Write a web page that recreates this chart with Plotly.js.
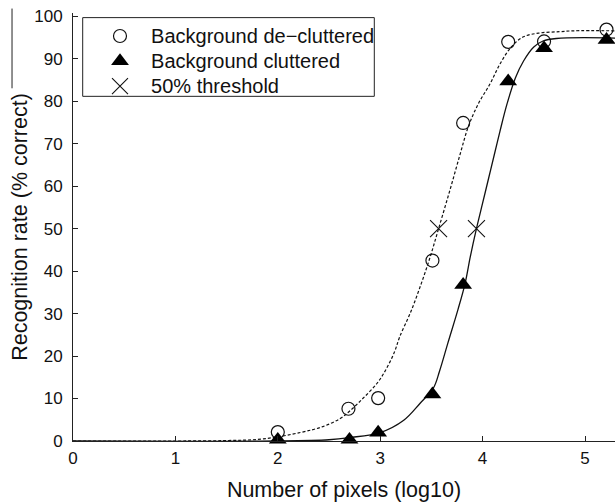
<!DOCTYPE html>
<html>
<head>
<meta charset="utf-8">
<script src="https://cdn.plot.ly/plotly-3.0.1.min.js"></script>
<style>html,body{margin:0;padding:0;background:#fff;}#chart{width:615px;height:504px;}</style>
</head>
<body>
<div id="chart"></div>
<script>
// Measured data points
var declutteredX = [2.0, 2.69, 2.98, 3.51, 3.81, 4.25, 4.60, 5.21];
var declutteredY = [2.1, 7.6, 10.1, 42.5, 74.9, 94.0, 94.1, 96.9];
var clutteredX = [2.0, 2.70, 2.98, 3.51, 3.81, 4.25, 4.60, 5.21];
var clutteredY = [0.3, 0.3, 2.0, 11.0, 36.8, 84.7, 92.5, 94.5];
var thresholdX = [3.57, 3.94];
var thresholdY = [50, 50];

// Fitted curves
var fitDeclutteredX = [0, 1.0, 1.5, 1.86, 2.22, 2.44, 2.61, 2.70, 2.83, 2.97, 3.06, 3.14, 3.19, 3.30, 3.40, 3.49, 3.57, 3.68, 3.78, 3.86, 3.96, 4.07, 4.17, 4.28, 4.40, 4.56, 4.75, 4.89, 5.3];
var fitDeclutteredY = [0, 0, 0.1, 0.5, 2.0, 3.4, 5.3, 7.0, 10.0, 13.6, 17.0, 21.0, 24.5, 30.5, 37, 43.5, 50, 59, 67.5, 74, 79.5, 84, 88.8, 92.8, 95.2, 96.1, 96.4, 96.6, 96.6];
var fitClutteredX = [0, 2.0, 2.5, 2.70, 3.00, 3.23, 3.39, 3.52, 3.58, 3.66, 3.76, 3.83, 3.88, 3.94, 4.00, 4.06, 4.12, 4.17, 4.24, 4.32, 4.40, 4.50, 4.59, 4.72, 5.3];
var fitClutteredY = [0, 0, 0.3, 0.8, 2.0, 4.9, 8.9, 12.5, 16.5, 23, 31, 37.2, 43.4, 50, 56, 62, 68, 73, 79.5, 85.5, 89.5, 92.8, 94.2, 94.8, 94.9];

var xTicks = [0, 1, 2, 3, 4, 5];
var yTicks = [0, 10, 20, 30, 40, 50, 60, 70, 80, 90, 100];

var names = ['Background de\u2212cluttered', 'Background cluttered', '50% threshold'];
function legName(s) { return '<span style="font-size:20px">\u00a0\u00a0' + s + '</span>'; }

var ink = '#111';
var traces = [
  {x: fitDeclutteredX, y: fitDeclutteredY, mode: 'lines', line: {color: ink, width: 1.2, dash: '3px,2px', shape: 'spline'}, showlegend: false, hoverinfo: 'skip'},
  {x: fitClutteredX, y: fitClutteredY, mode: 'lines', line: {color: ink, width: 1.3, shape: 'spline'}, showlegend: false, hoverinfo: 'skip'},
  {x: declutteredX, y: declutteredY, mode: 'markers', name: legName(names[0]), marker: {symbol: 'circle-open', size: 13, color: ink, line: {width: 1.2, color: ink}}, cliponaxis: false},
  {x: clutteredX, y: clutteredY, mode: 'markers', name: legName(names[1]), marker: {symbol: 'triangle-up', size: 15.5, color: '#000', line: {width: 0}}, cliponaxis: false},
  {x: thresholdX, y: thresholdY, mode: 'markers', name: legName(names[2]), marker: {symbol: 'x-thin-open', size: 17, color: ink, line: {width: 1.1, color: ink}}, cliponaxis: false}
];

var layout = {
  width: 615, height: 504,
  margin: {l: 73, r: 0, t: 13, b: 63, pad: 0},
  paper_bgcolor: '#fff', plot_bgcolor: '#fff',
  font: {family: '"Liberation Sans", Arial, Helvetica, sans-serif', color: ink, size: 17},
  showlegend: true,
  legend: {x: 0.0498, y: 0.9873, xanchor: 'left', yanchor: 'top', bgcolor: 'rgba(0,0,0,0)', borderwidth: 0, font: {size: 17, color: ink}, traceorder: 'normal'},
  xaxis: {
    range: [0, 5.293], tickmode: 'array', tickvals: xTicks, ticktext: xTicks.map(String),
    ticks: 'inside', ticklen: 5, tickwidth: 1, tickcolor: '#222',
    showline: true, linecolor: '#222', linewidth: 1, showgrid: false, zeroline: false,
    tickfont: {size: 17}, ticklabelstandoff: 2,
    title: {text: 'Number of pixels (log10)', font: {size: 21.5}, standoff: 14}
  },
  yaxis: {
    range: [0, 100.8], tickmode: 'array', tickvals: yTicks, ticktext: yTicks.map(String),
    ticks: 'inside', ticklen: 5, tickwidth: 1, tickcolor: '#222',
    showline: true, linecolor: '#222', linewidth: 1, showgrid: false, zeroline: false,
    tickfont: {size: 17}, ticklabelstandoff: 6,
    title: {text: 'Recognition rate (% correct)', font: {size: 21.5}, standoff: 0}
  },
  shapes: [
    {type: 'rect', xref: 'paper', yref: 'paper', x0: 0.0179, x1: 0.5559, y0: 0.8053, y1: 0.9892, line: {color: '#222', width: 1}, fillcolor: 'rgba(0,0,0,0)'},
    {type: 'line', xref: 'paper', yref: 'paper', x0: -0.1125, x1: -0.1125, y0: 1.0104, y1: 0.8241, line: {color: '#222', width: 1}}
  ]
};

Plotly.newPlot('chart', traces, layout, {staticPlot: true, displayModeBar: false});
</script>
</body>
</html>
